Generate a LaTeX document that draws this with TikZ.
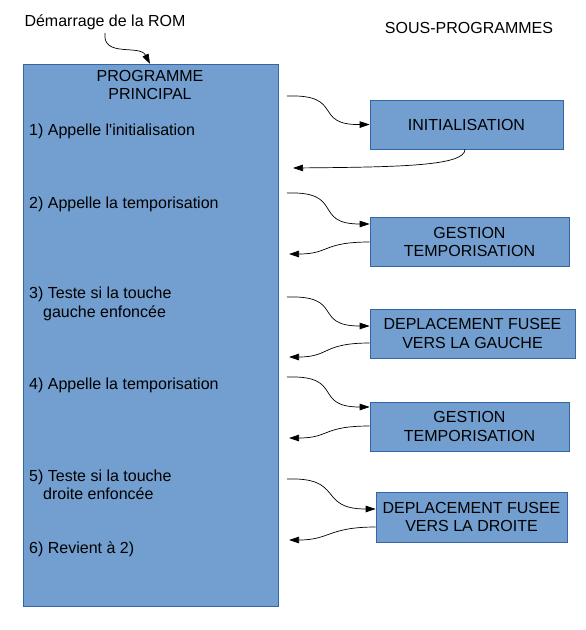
\documentclass[tikz,border=0pt]{standalone}
\usepackage{fontspec}
\setmainfont{Liberation Sans}[Ligatures=TeXOff]
\usetikzlibrary{arrows.meta}
\definecolor{boxfill}{HTML}{729FCF}
\definecolor{boxline}{HTML}{3465A4}
\begin{document}
\begin{tikzpicture}[x=1pt,y=-1pt,
  every node/.style={font=\fontsize{16}{18.5}\selectfont, text=black, inner sep=0pt},
  prog/.style={draw=boxline, fill=boxfill, line width=0.6pt},
  sub/.style={prog, align=center},
  lbl/.style={anchor=west, align=left},
  conn/.style={line width=0.7pt, -{Triangle[length=10pt,width=6.5pt]}}]
\useasboundingbox (0,0) rectangle (586,630);
\node[prog, minimum width=255pt, minimum height=542pt, anchor=north west] (main) at (23,64) {};
\node[align=center] (title) at (150,85) {PROGRAMME\\PRINCIPAL};
\node[lbl] (s1) at (29,131) {1) Appelle l'initialisation};
\node[lbl] (s2) at (29,204) {2) Appelle la temporisation};
\node[lbl] (s3) at (29,304) {3) Teste si la touche\\\hspace*{14pt}gauche enfoncée};
\node[lbl] (s4) at (29,385) {4) Appelle la temporisation};
\node[lbl] (s5) at (29,485) {5) Teste si la touche\\\hspace*{14pt}droite enfoncée};
\node[lbl] (s6) at (29,549) {6) Revient à 2)};
\node (rom) at (105,22) {Démarrage de la ROM};
\node (sp) at (469,28) {SOUS-PROGRAMMES};
\node[sub, minimum width=193pt, minimum height=49pt] (b1) at (466.5,124.5) {INITIALISATION};
\node[sub, minimum width=199pt, minimum height=49pt] (b2) at (469.5,242) {GESTION\\TEMPORISATION};
\node[sub, minimum width=205pt, minimum height=49pt] (b3) at (472.5,333.5) {DEPLACEMENT FUSEE\\VERS LA GAUCHE};
\node[sub, minimum width=199pt, minimum height=49pt] (b4) at (469.5,426.5) {GESTION\\TEMPORISATION};
\node[sub, minimum width=191pt, minimum height=50pt] (b5) at (471.5,517) {DEPLACEMENT FUSEE\\VERS LA DROITE};
% start / end points
\coordinate (o1) at (287,96);  \coordinate (r1) at (293,168);
\coordinate (o2) at (287,193); \coordinate (r2) at (289,254);
\coordinate (o3) at (287,297); \coordinate (r3) at (289,357);
\coordinate (o4) at (287,377); \coordinate (r4) at (289,438);
\coordinate (o5) at (287,479); \coordinate (r5) at (289,540);
\coordinate (romfoot) at (105,33);
\draw[conn] (romfoot) .. controls (102,58) and (140,44) .. (main.north -| 150,0);
% calls
\draw[conn] (o1) .. controls (345,94) and (312,125) .. (b1.west);
\draw[conn] (o2) .. controls (345,191) and (312,224) .. (b2.west |- 0,224);
\draw[conn] (o3) .. controls (345,295) and (312,326) .. (b3.west |- 0,326);
\draw[conn] (o4) .. controls (345,375) and (312,407) .. (b4.west |- 0,407);
\draw[conn] (o5) .. controls (345,477) and (317,509) .. (b5.west |- 0,509);
% returns
\draw[conn] (b1.south -| 465,0) .. controls (465,166) and (400,167) .. (r1);
\draw[conn] (b2.west |- 0,242) .. controls (322,242) and (330,254) .. (r2);
\draw[conn] (b3.west |- 0,343) .. controls (322,343) and (330,357) .. (r3);
\draw[conn] (b4.west |- 0,426) .. controls (322,426) and (330,438) .. (r4);
\draw[conn] (b5.west |- 0,527) .. controls (328,527) and (330,540) .. (r5);
\end{tikzpicture}
\end{document}
